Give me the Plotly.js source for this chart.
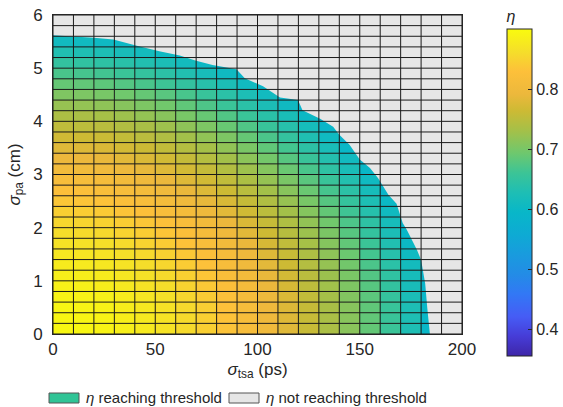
<!DOCTYPE html>
<html>
<head>
<meta charset="utf-8">
<script src="https://cdn.plot.ly/plotly-3.0.1.min.js"></script>
<style>html,body{margin:0;padding:0;background:#fff;}#chart{width:563px;height:407px;}</style>
</head>
<body>
<div id="chart"></div>
<script>
// sigma_tsa (ps) cell centres and sigma_pa (cm) cell centres
const sigmaTsa = [5,15,25,35,45,55,65,75,85,95,105,115,125,135,145,155,165,175,185,195];
const sigmaPa = [0.1,0.3,0.5,0.7,0.9,1.1,1.3,1.5,1.7,1.9,2.1,2.3,2.5,2.7,2.9,3.1,3.3,3.5,3.7,3.9,4.1,4.3,4.5,4.7,4.9,5.1,5.3,5.5,5.7,5.9];
const N = null;
// eta values, one row per sigma_pa, one column per sigma_tsa
const eta = [
[0.895,0.893,0.890,0.884,0.877,0.869,0.858,0.846,0.832,0.816,0.799,0.780,0.759,0.736,0.712,0.686,0.658,0.628,0.597,0.564],
[0.894,0.892,0.889,0.883,0.876,0.868,0.857,0.845,0.831,0.815,0.798,0.779,0.758,0.735,0.711,0.685,0.657,0.627,0.596,0.563],
[0.893,0.891,0.888,0.882,0.875,0.867,0.856,0.844,0.830,0.814,0.797,0.778,0.757,0.734,0.710,0.684,0.656,0.626,0.595,0.562],
[0.890,0.888,0.885,0.879,0.872,0.864,0.853,0.841,0.827,0.811,0.794,0.775,0.754,0.731,0.707,0.681,0.653,0.623,0.592,0.559],
[0.887,0.885,0.882,0.876,0.869,0.861,0.850,0.838,0.824,0.808,0.791,0.772,0.751,0.728,0.704,0.678,0.650,0.620,0.589,0.556],
[0.884,0.882,0.879,0.873,0.866,0.858,0.847,0.835,0.821,0.805,0.788,0.769,0.748,0.725,0.701,0.675,0.647,0.617,0.586,0.553],
[0.879,0.877,0.874,0.868,0.861,0.853,0.842,0.830,0.816,0.800,0.783,0.764,0.743,0.720,0.696,0.670,0.642,0.612,0.581,0.548],
[0.874,0.872,0.869,0.863,0.856,0.848,0.837,0.825,0.811,0.795,0.778,0.759,0.738,0.715,0.691,0.665,0.637,0.607,0.576,0.543],
[0.868,0.866,0.863,0.857,0.850,0.842,0.831,0.819,0.805,0.789,0.772,0.753,0.732,0.709,0.685,0.659,0.631,0.601,0.570,N],
[0.861,0.859,0.856,0.850,0.843,0.835,0.824,0.812,0.798,0.782,0.765,0.746,0.725,0.702,0.678,0.652,0.624,0.594,0.563,N],
[0.854,0.852,0.849,0.843,0.836,0.828,0.817,0.805,0.791,0.775,0.758,0.739,0.718,0.695,0.671,0.645,0.617,0.587,0.556,N],
[0.845,0.843,0.840,0.834,0.827,0.819,0.808,0.796,0.782,0.766,0.749,0.730,0.709,0.686,0.662,0.636,0.608,0.578,0.547,N],
[0.836,0.834,0.831,0.825,0.818,0.810,0.799,0.787,0.773,0.757,0.740,0.721,0.700,0.677,0.653,0.627,0.599,0.569,N,N],
[0.826,0.824,0.821,0.815,0.808,0.800,0.789,0.777,0.763,0.747,0.730,0.711,0.690,0.667,0.643,0.617,0.589,0.559,N,N],
[0.816,0.814,0.811,0.805,0.798,0.790,0.779,0.767,0.753,0.737,0.720,0.701,0.680,0.657,0.633,0.607,0.579,0.549,N,N],
[0.805,0.803,0.800,0.794,0.787,0.779,0.768,0.756,0.742,0.726,0.709,0.690,0.669,0.646,0.622,0.596,0.568,N,N,N],
[0.793,0.791,0.788,0.782,0.775,0.767,0.756,0.744,0.730,0.714,0.697,0.678,0.657,0.634,0.610,0.584,0.556,N,N,N],
[0.780,0.778,0.775,0.769,0.762,0.754,0.743,0.731,0.717,0.701,0.684,0.665,0.644,0.621,0.597,0.571,N,N,N,N],
[0.766,0.764,0.761,0.755,0.748,0.740,0.729,0.717,0.703,0.687,0.670,0.651,0.630,0.607,0.583,0.557,N,N,N,N],
[0.752,0.750,0.747,0.741,0.734,0.726,0.715,0.703,0.689,0.673,0.656,0.637,0.616,0.593,0.569,N,N,N,N,N],
[0.737,0.735,0.732,0.726,0.719,0.711,0.700,0.688,0.674,0.658,0.641,0.622,0.601,0.578,0.554,N,N,N,N,N],
[0.721,0.719,0.716,0.710,0.703,0.695,0.684,0.672,0.658,0.642,0.625,0.606,0.585,0.562,N,N,N,N,N,N],
[0.705,0.703,0.700,0.694,0.687,0.679,0.668,0.656,0.642,0.626,0.609,0.590,0.569,N,N,N,N,N,N,N],
[0.687,0.685,0.682,0.676,0.669,0.661,0.650,0.638,0.624,0.608,0.591,0.572,N,N,N,N,N,N,N,N],
[0.669,0.667,0.664,0.658,0.651,0.643,0.632,0.620,0.606,0.590,0.573,N,N,N,N,N,N,N,N,N],
[0.650,0.648,0.645,0.639,0.632,0.624,0.613,0.601,0.587,0.571,N,N,N,N,N,N,N,N,N,N],
[0.631,0.629,0.626,0.620,0.613,0.605,0.594,0.582,N,N,N,N,N,N,N,N,N,N,N,N],
[0.610,0.608,0.605,0.599,0.592,0.584,N,N,N,N,N,N,N,N,N,N,N,N,N,N],
[0.589,0.587,N,N,N,N,N,N,N,N,N,N,N,N,N,N,N,N,N,N],
[0.568,N,N,N,N,N,N,N,N,N,N,N,N,N,N,N,N,N,N,N]
];
// threshold boundary (sigma_tsa, sigma_pa)
const bndX = [0,10,20,29.5,41,52,62,70,78,89.7,93.8,102.7,111,119.8,122,130.6,137,140,145,150,155,159,164,168,171,173,178,180,182,183,184,184.3];
const bndY = [5.62,5.60,5.57,5.54,5.42,5.32,5.24,5.14,5.06,4.98,4.81,4.66,4.45,4.40,4.21,4.05,3.90,3.75,3.56,3.28,3.12,2.93,2.62,2.45,2.09,1.96,1.58,1.39,0.95,0.50,0.20,0];
const xTickVals = [0,50,100,150,200];
const yTickVals = [0,1,2,3,4,5,6];
const cbTickVals = [0.4,0.5,0.6,0.7,0.8];
const legendLabels = ['<i>η</i> reaching threshold','<i>η</i> not reaching threshold'];

const parula = [
[0.00,'rgb(62,38,168)'],
[0.06,'rgb(70,60,215)'],
[0.12,'rgb(70,92,245)'],
[0.19,'rgb(50,120,245)'],
[0.25,'rgb(35,140,230)'],
[0.31,'rgb(25,155,222)'],
[0.37,'rgb(14,170,212)'],
[0.44,'rgb(8,183,200)'],
[0.50,'rgb(30,190,180)'],
[0.56,'rgb(60,196,150)'],
[0.62,'rgb(110,200,110)'],
[0.69,'rgb(165,192,72)'],
[0.75,'rgb(205,186,52)'],
[0.80,'rgb(236,184,60)'],
[0.87,'rgb(253,192,58)'],
[0.93,'rgb(245,222,42)'],
[1.00,'rgb(249,251,14)']
];

const FONT = 'Liberation Sans, Arial, sans-serif';
const dx = sigmaTsa[1]-sigmaTsa[0];
const dy = sigmaPa[1]-sigmaPa[0];
const xEdges = sigmaTsa.map(v=>v-dx/2).concat([sigmaTsa[sigmaTsa.length-1]+dx/2]);
const yEdges = sigmaPa.map(v=>v-dy/2).concat([sigmaPa[sigmaPa.length-1]+dy/2]);
const x0 = xEdges[0], x1 = xEdges[xEdges.length-1];
const y0 = yEdges[0], y1 = yEdges[yEdges.length-1];

const heat = {
  type:'heatmap', x:sigmaTsa, y:sigmaPa, z:eta,
  colorscale:parula, zmin:0.355, zmax:0.9, zsmooth:false, hoverinfo:'skip',
  colorbar:{
    x:507/563, xanchor:'left', xref:'container', thickness:25, thicknessmode:'pixels',
    len:349, lenmode:'pixels', y:(334-181.5)/319, yref:'paper', yanchor:'middle',
    outlinecolor:'#262626', outlinewidth:1, xpad:0, ypad:0,
    tickvals:cbTickVals, ticktext:cbTickVals.map(v=>v.toFixed(1)),
    ticks:'inside', ticklen:4, tickcolor:'#262626',
    tickfont:{family:FONT, size:16, color:'#262626'},
    title:{text:'<i>η</i>', side:'top', font:{family:FONT, size:16, color:'#262626'}}
  }
};
const grayX = bndX.concat([x1, x1, x0]);
const grayY = bndY.concat([y0, y1, y1]);
const gray = {
  type:'scatter', mode:'lines', x:grayX, y:grayY, fill:'toself',
  fillcolor:'#e6e6e6', line:{width:0, color:'#e6e6e6'}, hoverinfo:'skip', showlegend:false
};

const shapes = [];
xEdges.forEach(v=>shapes.push({type:'line', xref:'x', yref:'y', x0:v, x1:v, y0:y0, y1:y1, layer:'above', line:{color:'#1a1a1a', width:1}}));
yEdges.forEach(v=>shapes.push({type:'line', xref:'x', yref:'y', x0:x0, x1:x1, y0:v, y1:v, layer:'above', line:{color:'#1a1a1a', width:1}}));
// legend patches
const W = 409, H = 319;
function px2x(p){return (p-53)/W;}
function py2y(p){return (334-p)/H;}
shapes.push({type:'rect', xref:'paper', yref:'paper', x0:px2x(49), x1:px2x(79), y0:py2y(403), y1:py2y(393), fillcolor:'rgb(48,196,150)', line:{color:'#555', width:1}});
shapes.push({type:'rect', xref:'paper', yref:'paper', x0:px2x(229), x1:px2x(259), y0:py2y(403), y1:py2y(393), fillcolor:'#e6e6e6', line:{color:'#555', width:1}});

const annotations = [
  {xref:'paper', yref:'paper', x:px2x(84), y:py2y(397), xanchor:'left', yanchor:'middle', showarrow:false, text:legendLabels[0], font:{family:FONT, size:15, color:'#262626'}},
  {xref:'paper', yref:'paper', x:px2x(264), y:py2y(397), xanchor:'left', yanchor:'middle', showarrow:false, text:legendLabels[1], font:{family:FONT, size:15, color:'#262626'}}
];

const layout = {
  width:563, height:407,
  margin:{l:53, r:101, t:15, b:73, pad:0, autoexpand:false},
  paper_bgcolor:'#fff', plot_bgcolor:'#fff',
  showlegend:false,
  xaxis:{range:[x0,x1], tickvals:xTickVals, showgrid:false, zeroline:false, ticks:'',
    showline:true, mirror:true, linecolor:'#262626', linewidth:1, automargin:false,
    tickfont:{family:FONT, size:17, color:'#262626'}, ticklabelstandoff:0,
    title:{text:'<i>σ</i><sub>tsa</sub> (ps)', font:{family:FONT, size:17, color:'#262626'}, standoff:4}},
  yaxis:{range:[y0,y1], tickvals:yTickVals, showgrid:false, zeroline:false, ticks:'',
    showline:true, mirror:true, linecolor:'#262626', linewidth:1, automargin:false,
    tickfont:{family:FONT, size:17, color:'#262626'}, ticklabelstandoff:6,
    title:{text:'<i>σ</i><sub>pa</sub> (cm)', font:{family:FONT, size:17, color:'#262626'}, standoff:8}},
  shapes:shapes, annotations:annotations
};
Plotly.newPlot('chart', [heat, gray], layout, {displayModeBar:false, staticPlot:true});
</script>
</body>
</html>
